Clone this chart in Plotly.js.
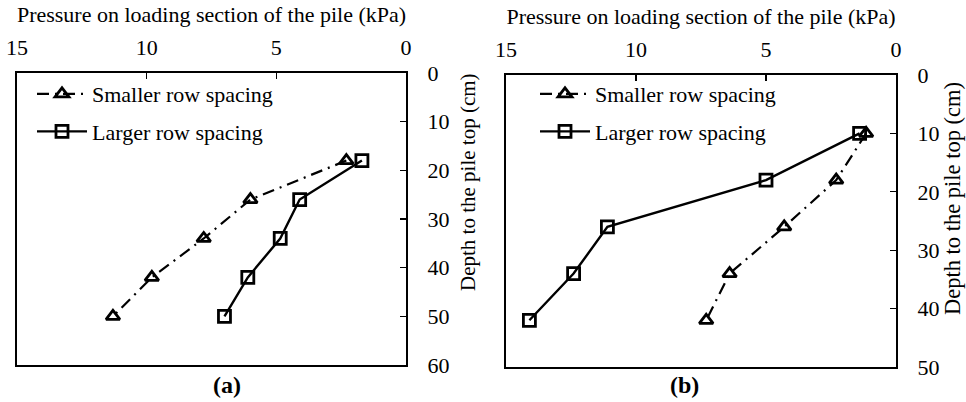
<!DOCTYPE html>
<html><head><meta charset="utf-8">
<script src="https://cdn.plot.ly/plotly-3.0.1.min.js"></script>
<style>body{margin:0;background:#fff}#chart{width:966px;height:402px}</style>
</head><body><div id="chart"></div>
<script>
// Panel (a)
const depthA = [18, 26, 34, 42, 50];
const smallerA = [2.3, 6.0, 7.8, 9.8, 11.3];
const largerA = [1.7, 4.1, 4.85, 6.1, 7.0];
// Panel (b)
const depthB = [10, 18, 26, 34, 42];
const smallerB = [1.15, 2.3, 4.3, 6.4, 7.3];
const largerB = [1.4, 5.0, 11.1, 12.4, 14.1];

const seriesNames = ['Smaller row spacing', 'Larger row spacing'];
const xTitle = 'Pressure on loading section of the pile (kPa)';
const yTitle = 'Depth to the pile top (cm)';
const panelLabels = ['(a)', '(b)'];
const xTicks = [15, 10, 5, 0];

const FONT = 'Liberation Serif';

function smallerTrace(x, y, xa, ya, lg) {
  return {x: x, y: y, xaxis: xa, yaxis: ya, name: seriesNames[0], legend: lg, legendgroup: 's',
    type: 'scatter', mode: 'lines+markers',
    line: {color: '#000', width: 2.2, dash: '12px,6px,2px,6px'},
    marker: {symbol: 'triangle-up-open', size: 12, color: '#000', line: {width: 2.8, color: '#000'}}};
}
function largerTrace(x, y, xa, ya, lg) {
  return {x: x, y: y, xaxis: xa, yaxis: ya, name: seriesNames[1], legend: lg, legendgroup: 'l',
    type: 'scatter', mode: 'lines+markers',
    line: {color: '#000', width: 2.4},
    marker: {symbol: 'square-open', size: 12, color: '#000', line: {width: 2.8, color: '#000'}}};
}

const data = [
  smallerTrace(smallerA, depthA, 'x', 'y', 'legend'),
  largerTrace(largerA, depthA, 'x', 'y', 'legend'),
  smallerTrace(smallerB, depthB, 'x2', 'y2', 'legend2'),
  largerTrace(largerB, depthB, 'x2', 'y2', 'legend2')
];

function xAxis(domain, anchor) {
  return {domain: domain, anchor: anchor, side: 'top', range: [15, 0], autorange: false,
    tickvals: xTicks, ticktext: xTicks.map(String),
    ticks: 'inside', ticklen: 6, tickwidth: 1.2, tickcolor: '#000',
    showline: true, mirror: true, linecolor: '#000', linewidth: 2,
    showgrid: false, zeroline: false, ticklabelstandoff: 7,
    tickfont: {family: FONT, size: 22, color: '#000'},
    title: {text: xTitle, font: {family: FONT, size: 22, color: '#000'}, standoff: 7}};
}
function yAxis(domain, anchor, maxv) {
  return {domain: domain, anchor: anchor, side: 'right', range: [maxv, 0], autorange: false,
    dtick: 10, ticks: 'inside', ticklen: 6, tickwidth: 1.2, tickcolor: '#000',
    showline: true, mirror: true, linecolor: '#000', linewidth: 2,
    showgrid: false, zeroline: false, ticklabelstandoff: 15,
    tickfont: {family: FONT, size: 22, color: '#000'}};
}

const layout = {
  width: 966, height: 402,
  margin: {l: 0, r: 0, t: 0, b: 0},
  paper_bgcolor: '#fff', plot_bgcolor: '#fff',
  font: {family: FONT, size: 22, color: '#000'},
  xaxis: xAxis([17/966, 406/966], 'y'),
  yaxis: yAxis([1 - 365/402, 1 - 73/402], 'x', 60),
  xaxis2: xAxis([506/966, 896/966], 'y2'),
  yaxis2: yAxis([1 - 367/402, 1 - 75/402], 'x2', 50),
  legend: {x: 32/966, y: 1 - 73/402, xanchor: 'left', yanchor: 'top', bgcolor: 'rgba(0,0,0,0)',
    font: {family: FONT, size: 22, color: '#000'}, itemwidth: 50, traceorder: 'grouped', tracegroupgap: 6},
  legend2: {x: 535/966, y: 1 - 73/402, xanchor: 'left', yanchor: 'top', bgcolor: 'rgba(0,0,0,0)',
    font: {family: FONT, size: 22, color: '#000'}, itemwidth: 50, traceorder: 'grouped', tracegroupgap: 6},
  annotations: [
    {text: '<b>' + panelLabels[0] + '</b>', xref: 'paper', yref: 'paper', x: 211/966, y: 1 - 385/402,
      yanchor: 'middle', showarrow: false, font: {family: FONT, size: 24, color: '#000'}},
    {text: '<b>' + panelLabels[1] + '</b>', xref: 'paper', yref: 'paper', x: 701/966, y: 1 - 385/402,
      yanchor: 'middle', showarrow: false, font: {family: FONT, size: 24, color: '#000'}},
    {text: yTitle, xref: 'paper', yref: 'paper', x: 468/966, y: 1 - 182/402, textangle: -90,
      xanchor: 'center', yanchor: 'middle', showarrow: false, font: {family: FONT, size: 21, color: '#000'}},
    {text: yTitle, xref: 'paper', yref: 'paper', x: 952/966, y: 1 - 199/402, textangle: -90,
      xanchor: 'center', yanchor: 'middle', showarrow: false, font: {family: FONT, size: 22.5, color: '#000'}}
  ]
};

Plotly.newPlot('chart', data, layout, {staticPlot: true, displayModeBar: false});
</script>
</body></html>
